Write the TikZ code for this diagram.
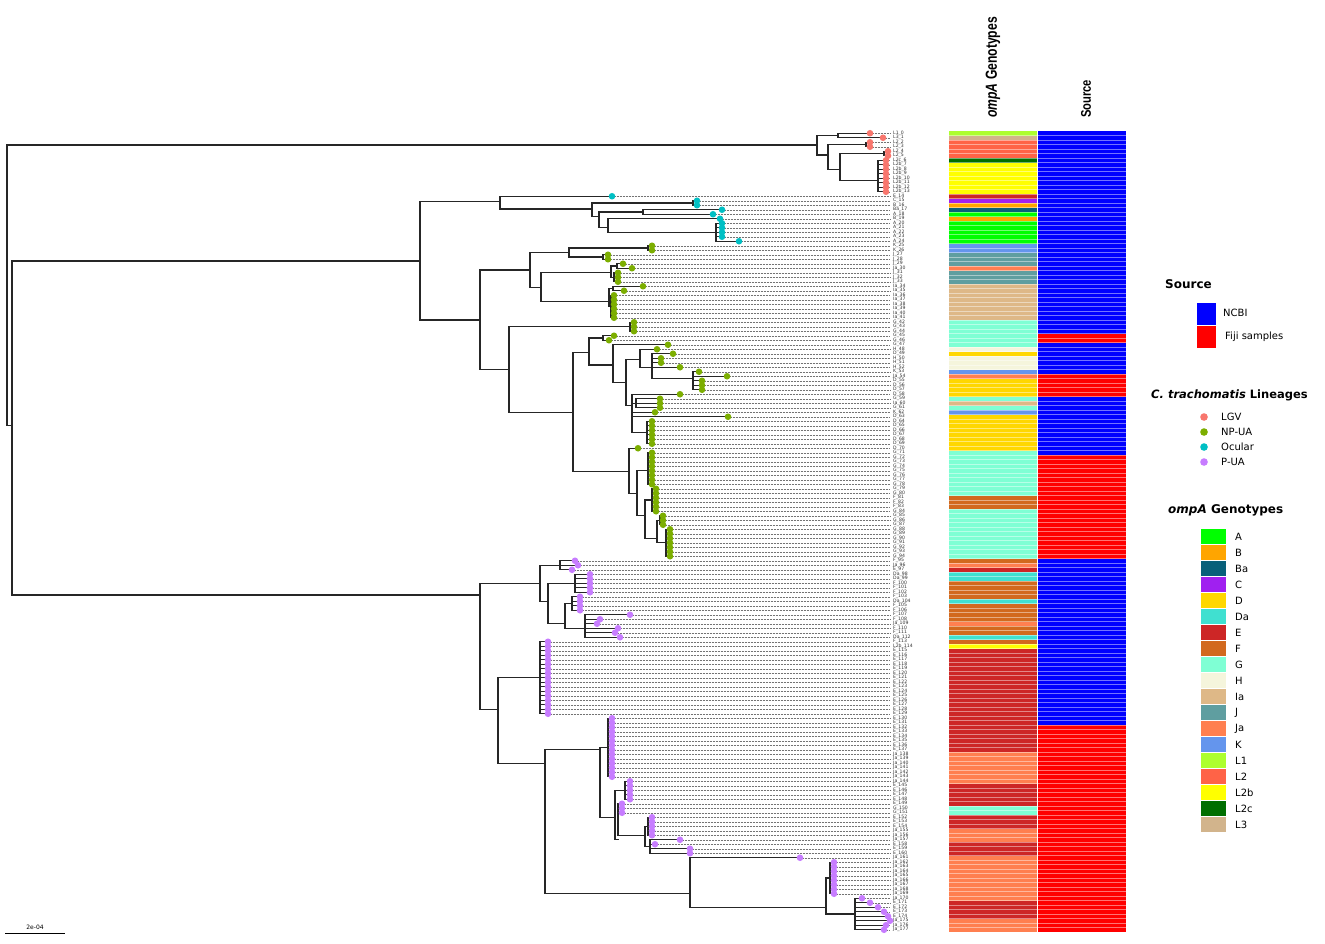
\documentclass[tikz,border=0pt]{standalone}
\usepackage{fontspec}
\setmainfont{DejaVu Sans}
\newfontfamily\hdrfont{Liberation Sans}

\pgfdeclarelayer{dots}
\pgfsetlayers{main,dots}

% lineages
\definecolor{lgv}{HTML}{F8766D}
\definecolor{npua}{HTML}{7CAE00}
\definecolor{ocul}{HTML}{00BFC4}
\definecolor{pua}{HTML}{C77CFF}
% source
\definecolor{ncbi}{HTML}{0000FF}
\definecolor{fiji}{HTML}{FF0000}
% ompA genotypes
\definecolor{gA}{HTML}{00FF00}
\definecolor{gB}{HTML}{FFA500}
\definecolor{gBa}{HTML}{08607A}
\definecolor{gC}{HTML}{A020F0}
\definecolor{gD}{HTML}{FFD700}
\definecolor{gDa}{HTML}{40E0D0}
\definecolor{gE}{HTML}{CD2626}
\definecolor{gF}{HTML}{D2691E}
\definecolor{gG}{HTML}{7FFFD4}
\definecolor{gH}{HTML}{F5F5DC}
\definecolor{gIa}{HTML}{DEB887}
\definecolor{gJ}{HTML}{5F9EA0}
\definecolor{gJa}{HTML}{FF7F50}
\definecolor{gK}{HTML}{6495ED}
\definecolor{gLone}{HTML}{ADFF2F}
\definecolor{gLtwo}{HTML}{FF6347}
\definecolor{gLtwob}{HTML}{FFFF00}
\definecolor{gLtwoc}{HTML}{006E00}
\definecolor{gLthree}{HTML}{D2B48C}

\tikzset{
  branch/.style={line width=1.3pt, black!85, line cap=rect},
  guide/.style={densely dotted, line width=0.5pt, black!55},
  tiplab/.style={anchor=west, inner sep=0pt, text=black!80, font=\fontsize{4.6}{4.6}\selectfont},
  stripe/.style={white, opacity=0.45, line width=0.6pt},
  hdr/.style={inner sep=0pt, font=\hdrfont\bfseries},
  legtitle/.style={anchor=west, inner sep=0pt, font=\bfseries\fontsize{12}{14}\selectfont},
  leglab/.style={anchor=west, inner sep=0pt, font=\fontsize{10}{12}\selectfont},
}

% tree pieces: row, x from, x to / x, row from, row to
\newcommand{\hb}[3]{\draw[branch] (#2,#1) -- (#3,#1);}
\newcommand{\vb}[3]{\draw[branch] (#1,#2) -- (#1,#3);}
% tip: node x, row, tip x, colour
\newcommand{\tp}[4]{\draw[branch] (#1,#2) -- (#3,#2);
  \draw[guide] (#3,#2) -- (890,#2);
  \begin{pgfonlayer}{dots}\fill[#4] (#3,#2) circle[radius=3.3pt];\end{pgfonlayer}}
\newcommand{\tps}[5]{\vb{#1}{#2}{#3}\foreach \r in {#2,...,#3}{\tp{#1}{\r}{#4}{#5}}}
% ompA cells with tip labels
\newcommand{\og}[4]{\fill[#3] (949,#1-0.5) rectangle (1037,#2+0.5);
  \foreach \r in {#1,...,#2}{\node[tiplab] (tip\r) at (893,\r) {#4\_\r};}}
\newcommand{\sr}[3]{\fill[#3] (1038,#1-0.5) rectangle (1126,#2+0.5);}

\begin{document}
\begin{tikzpicture}[x=1pt,y=-1pt]
\useasboundingbox[fill=white] (0,0) rectangle (1325,943);

\begin{scope}[y=-4.5pt,yshift=-133.25pt]
% root
\vb{7}{2.6}{65}
\hb{65}{7}{12}
\vb{12}{28.4}{102.6}

% LGV
\hb{2.6}{7}{817}
\vb{817}{0.5}{4.8}
\hb{0.5}{817}{838}
\vb{838}{0}{1}
\tp{838}{0}{870}{lgv}
\tp{838}{1}{883}{lgv}
\hb{4.8}{817}{828}
\vb{828}{2.5}{8}
\hb{2.5}{828}{866}
\tps{866}{2}{3}{870}{lgv}
\hb{8}{828}{840}
\vb{840}{4.5}{10.5}
\hb{4.5}{840}{884}
\tps{884}{4}{5}{888}{lgv}
\hb{10.5}{840}{878}
\tps{878}{6}{13}{886}{lgv}

% ocular + NP-UA
\hb{28.4}{12}{420}
\vb{420}{15.2}{41.5}
\hb{15.2}{420}{500}
\vb{500}{14}{16.8}
\tp{500}{14}{612}{ocul}
\hb{16.8}{500}{592}
\vb{592}{15.5}{18.5}
\hb{15.5}{592}{693}
\tps{693}{15}{16}{697}{ocul}
\hb{18.5}{592}{599}
\vb{599}{17.5}{21}
\hb{17.5}{599}{643}
\vb{643}{17}{18}
\tp{643}{17}{722}{ocul}
\tp{643}{18}{713}{ocul}
\hb{21}{599}{608}
\vb{608}{19}{22}
\tp{608}{19}{720}{ocul}
\hb{22}{608}{716}
\tps{716}{20}{23}{722}{ocul}
\vb{716}{23}{24}
\tp{716}{24}{739}{ocul}

\hb{41.5}{420}{480}
\vb{480}{30.4}{52.5}
\hb{30.4}{480}{530}
\vb{530}{26.5}{34.2}
\hb{26.5}{530}{569}
\vb{569}{25.5}{27.5}
\hb{25.5}{569}{648}
\tps{648}{25}{26}{652}{npua}
\hb{27.5}{569}{603}
\tps{603}{27}{28}{608}{npua}
\hb{34.2}{530}{541}
\vb{541}{30.9}{37.4}
\hb{30.9}{541}{611}
\vb{611}{29.5}{32}
\hb{29.5}{611}{617}
\vb{617}{29}{30}
\tp{617}{29}{623}{npua}
\tp{617}{30}{632}{npua}
\hb{32}{611}{614}
\tps{614}{31}{33}{618}{npua}
\hb{37.4}{541}{609}
\vb{609}{34.5}{38.5}
\hb{34.5}{609}{613}
\vb{613}{34}{35}
\tp{613}{34}{643}{npua}
\tp{613}{35}{624}{npua}
\hb{38.5}{609}{611}
\tps{611}{36}{41}{614}{npua}

\hb{52.5}{480}{509}
\vb{509}{43}{62}
\hb{43}{509}{630}
\tps{630}{42}{44}{634}{npua}
\hb{62}{509}{573}
\vb{573}{48.7}{75.2}
\hb{48.7}{573}{589}
\vb{589}{45.5}{51.5}
\hb{45.5}{589}{603}
\vb{603}{45}{46}
\tp{603}{45}{614}{npua}
\tp{603}{46}{609}{npua}
\hb{51.5}{589}{613}
\vb{613}{47}{55.4}
\tp{613}{47}{668}{npua}
\hb{55.4}{613}{626}
\vb{626}{50.2}{60.5}
\hb{50.2}{626}{640}
\vb{640}{48}{52}
\tp{640}{48}{657}{npua}
\hb{52}{640}{652}
\vb{652}{49}{54.5}
\tp{652}{49}{673}{npua}
\tp{652}{50}{661}{npua}
\tp{652}{51}{661}{npua}
\tp{652}{52}{680}{npua}
\hb{54.5}{652}{693}
\vb{693}{53}{57}
\tp{693}{53}{699}{npua}
\tp{693}{54}{727}{npua}
\tps{693}{55}{57}{702}{npua}
\hb{60.5}{626}{632}
\vb{632}{58}{66.5}
\tp{632}{58}{680}{npua}
\hb{60}{632}{636}
\tps{636}{59}{61}{660}{npua}
\tp{632}{62}{655}{npua}
\tp{632}{63}{728}{npua}
\hb{66.5}{632}{647}
\tps{647}{64}{69}{652}{npua}
\hb{75.2}{573}{629}
\vb{629}{70}{80}
\tp{629}{70}{638}{npua}
\hb{80}{629}{637}
\vb{637}{75}{85}
\hb{75}{637}{648}
\tps{648}{71}{78}{652}{npua}
\hb{85}{637}{645}
\vb{645}{81.5}{90}
\hb{81.5}{645}{652}
\tps{652}{79}{84}{656}{npua}
\hb{90}{645}{657}
\vb{657}{86}{91}
\hb{86}{657}{660}
\tps{660}{85}{87}{663}{npua}
\hb{91}{657}{666}
\tps{666}{88}{94}{670}{npua}

% P-UA
\hb{102.6}{12}{480}
\vb{480}{100}{128}
\hb{100}{480}{540}
\vb{540}{96}{104}
\hb{96}{540}{560}
\vb{560}{95}{97}
\tp{560}{95}{575}{pua}
\tp{560}{96}{578}{pua}
\tp{560}{97}{572}{pua}
\hb{104}{540}{548}
\vb{548}{100}{109}
\hb{100}{548}{575}
\tps{575}{98}{102}{590}{pua}
\hb{109}{548}{565}
\vb{565}{104.5}{110}
\hb{104.5}{565}{572}
\tps{572}{103}{106}{580}{pua}
\hb{110}{565}{585}
\vb{585}{107}{112}
\tp{585}{107}{630}{pua}
\tp{585}{108}{600}{pua}
\tp{585}{109}{597}{pua}
\tp{585}{110}{618}{pua}
\tp{585}{111}{615}{pua}
\tp{585}{112}{620}{pua}
\hb{128}{480}{498}
\vb{498}{121}{140}
\hb{121}{498}{540}
\tps{540}{113}{129}{548}{pua}
\hb{140}{498}{545}
\vb{545}{137}{169}
\hb{137}{545}{600}
\vb{600}{136.5}{152}
\hb{136.5}{600}{608}
\tps{608}{130}{143}{612}{pua}
\hb{152}{600}{615}
\vb{615}{146}{157}
\hb{146}{615}{625}
\tps{625}{144}{148}{630}{pua}
\hb{157}{615}{618}
\vb{618}{150}{156}
\tps{618}{149}{151}{622}{pua}
\hb{156}{618}{645}
\vb{645}{154}{158.5}
\hb{154}{645}{648}
\tps{648}{152}{156}{652}{pua}
\hb{158.5}{645}{650}
\vb{650}{157}{160}
\tp{650}{157}{680}{pua}
\tp{650}{158}{655}{pua}
\tp{650}{159}{690}{pua}
\tp{650}{160}{690}{pua}
\hb{169}{545}{690}
\vb{690}{161}{172}
\tp{690}{161}{800}{pua}
\hb{172}{690}{826}
\vb{826}{165.5}{173.5}
\hb{165.5}{826}{830}
\tps{830}{162}{169}{834}{pua}
\hb{173.5}{826}{855}
\vb{855}{170}{177}
\foreach \r/\tx in {170/862,171/870,172/878,173/884,174/888,175/890,176/886,177/884}
  {\tp{855}{\r}{\tx}{pua}}

% ompA genotypes column
\og{0}{0}{gLone}{L1}
\og{1}{1}{gLthree}{L3}
\og{2}{5}{gLtwo}{L2}
\og{6}{6}{gLtwoc}{L2c}
\og{7}{13}{gLtwob}{L2b}
\og{14}{14}{gE}{E}
\og{15}{15}{gC}{C}
\og{16}{16}{gB}{B}
\og{17}{17}{gBa}{Ba}
\og{18}{18}{gA}{A}
\og{19}{19}{gB}{B}
\og{20}{24}{gA}{A}
\og{25}{26}{gK}{K}
\og{27}{29}{gJ}{J}
\og{30}{30}{gJa}{Ja}
\og{31}{33}{gJ}{J}
\og{34}{41}{gIa}{Ia}
\og{42}{47}{gG}{G}
\og{48}{48}{gH}{H}
\og{49}{49}{gD}{D}
\og{50}{52}{gH}{H}
\og{53}{53}{gK}{K}
\og{54}{54}{gJa}{Ja}
\og{55}{58}{gD}{D}
\og{59}{59}{gG}{G}
\og{60}{60}{gIa}{Ia}
\og{61}{61}{gG}{G}
\og{62}{62}{gK}{K}
\og{63}{70}{gD}{D}
\og{71}{80}{gG}{G}
\og{81}{83}{gF}{F}
\og{84}{94}{gG}{G}
\og{95}{95}{gF}{F}
\og{96}{96}{gJa}{Ja}
\og{97}{97}{gE}{E}
\og{98}{99}{gDa}{Da}
\og{100}{103}{gF}{F}
\og{104}{104}{gDa}{Da}
\og{105}{108}{gF}{F}
\og{109}{109}{gJa}{Ja}
\og{110}{111}{gF}{F}
\og{112}{112}{gDa}{Da}
\og{113}{113}{gF}{F}
\og{114}{114}{gLtwob}{L2b}
\og{115}{137}{gE}{E}
\og{138}{144}{gJa}{Ja}
\og{145}{149}{gE}{E}
\og{150}{151}{gG}{G}
\og{152}{154}{gE}{E}
\og{155}{157}{gJa}{Ja}
\og{158}{160}{gE}{E}
\og{161}{170}{gJa}{Ja}
\og{171}{174}{gE}{E}
\og{175}{177}{gJa}{Ja}

% source column
\sr{0}{44}{ncbi}
\sr{45}{46}{fiji}
\sr{47}{53}{ncbi}
\sr{54}{58}{fiji}
\sr{59}{71}{ncbi}
\sr{72}{94}{fiji}
\sr{95}{131}{ncbi}
\sr{132}{177}{fiji}

\foreach \r in {0,...,176}
  \draw[stripe] (949,\r+0.5) -- (1126,\r+0.5);
\draw[stripe] (1037.5,-0.5) -- (1037.5,177.5);
\end{scope}

% scale bar
\draw[line width=0.8pt] (5,933) -- (65,933);
\node[inner sep=0pt, font=\fontsize{6}{6}\selectfont] (scl) at (35,927) {2e-04};

% column headers
\node[hdr, rotate=90, anchor=west, font=\hdrfont\bfseries\fontsize{16}{16}\selectfont] (hgeno) at (993,118)
  {\scalebox{0.76}[1]{\textit{ompA} Genotypes}};
\node[hdr, rotate=90, anchor=west, font=\hdrfont\bfseries\fontsize{14}{14}\selectfont] (hsrc) at (1086,118)
  {\scalebox{0.8}[1]{Source}};

% legend: source
\node[legtitle] (lsrc) at (1165,284) {Source};
\fill[ncbi] (1197,303) rectangle (1216,325);
\fill[fiji] (1197,326) rectangle (1216,348);
\node[leglab] (lncbi) at (1223,313) {NCBI};
\node[leglab] (lfiji) at (1225,337) {Fiji samples};

% legend: lineages
\node[legtitle, font=\bfseries\fontsize{11.5}{14}\selectfont] (llin) at (1151,395) {\textit{C. trachomatis} Lineages};
\foreach \c/\t/\yy [count=\i] in {lgv/LGV/417, npua/NP-UA/432, ocul/Ocular/447, pua/P-UA/462} {
  \fill[\c] (1204,\yy) circle[radius=3.8pt];
  \node[leglab] (lin\i) at (1221,\yy) {\t};
}

% legend: ompA genotypes
\node[legtitle] (lgeno) at (1168,510) {\textit{ompA} Genotypes};
\foreach \c/\t [count=\i from 0] in {gA/A, gB/B, gBa/Ba, gC/C, gD/D, gDa/Da, gE/E, gF/F, gG/G, gH/H,
    gIa/Ia, gJ/J, gJa/Ja, gK/K, gLone/L1, gLtwo/L2, gLtwob/L2b, gLtwoc/L2c, gLthree/L3} {
  \fill[\c] (1201,{529+16*\i}) rectangle (1226,{544+16*\i});
  \node[leglab] (geno\i) at (1235,{536.5+16*\i}) {\t};
}
\end{tikzpicture}
\end{document}
